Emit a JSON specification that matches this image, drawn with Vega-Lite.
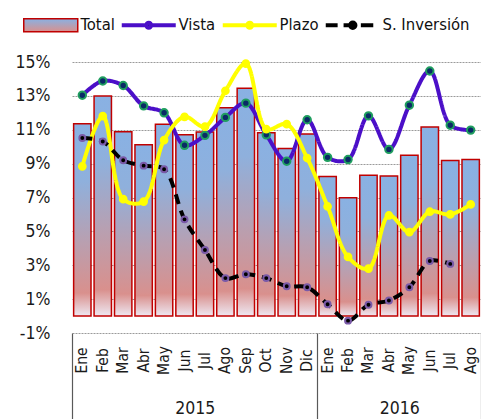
{
  "$schema": "https://vega.github.io/schema/vega-lite/v6.json",
  "width": 409,
  "height": 271,
  "autosize": {"type": "none"},
  "padding": {"left": 72, "top": 62, "right": 0, "bottom": 86},
  "background": "white",
  "config": {
    "font": "'DejaVu Sans Condensed', Roboto, sans-serif",
    "view": {"stroke": null},
    "axis": {"labelFont": "'DejaVu Sans Condensed', Roboto, sans-serif", "labelColor": "#1a1a1a"}
  },
  "data": {
    "values": [
      {"m": "2015-01", "serie": "Total", "v": 11.35},
      {"m": "2015-02", "serie": "Total", "v": 13.0},
      {"m": "2015-03", "serie": "Total", "v": 10.88},
      {"m": "2015-04", "serie": "Total", "v": 10.12},
      {"m": "2015-05", "serie": "Total", "v": 11.33},
      {"m": "2015-06", "serie": "Total", "v": 10.7},
      {"m": "2015-07", "serie": "Total", "v": 10.86},
      {"m": "2015-08", "serie": "Total", "v": 12.3},
      {"m": "2015-09", "serie": "Total", "v": 13.45},
      {"m": "2015-10", "serie": "Total", "v": 10.82},
      {"m": "2015-11", "serie": "Total", "v": 9.9},
      {"m": "2015-12", "serie": "Total", "v": 10.75},
      {"m": "2016-01", "serie": "Total", "v": 8.24},
      {"m": "2016-02", "serie": "Total", "v": 6.98},
      {"m": "2016-03", "serie": "Total", "v": 8.31},
      {"m": "2016-04", "serie": "Total", "v": 8.27},
      {"m": "2016-05", "serie": "Total", "v": 9.49},
      {"m": "2016-06", "serie": "Total", "v": 11.16},
      {"m": "2016-07", "serie": "Total", "v": 9.18},
      {"m": "2016-08", "serie": "Total", "v": 9.25},
      {"m": "2015-01", "serie": "Vista", "v": 13.04},
      {"m": "2015-02", "serie": "Vista", "v": 13.88},
      {"m": "2015-03", "serie": "Vista", "v": 13.61},
      {"m": "2015-04", "serie": "Vista", "v": 12.41},
      {"m": "2015-05", "serie": "Vista", "v": 12.0},
      {"m": "2015-06", "serie": "Vista", "v": 10.08},
      {"m": "2015-07", "serie": "Vista", "v": 10.67},
      {"m": "2015-08", "serie": "Vista", "v": 11.73},
      {"m": "2015-09", "serie": "Vista", "v": 12.57},
      {"m": "2015-10", "serie": "Vista", "v": 10.7},
      {"m": "2015-11", "serie": "Vista", "v": 9.14},
      {"m": "2015-12", "serie": "Vista", "v": 11.59},
      {"m": "2016-01", "serie": "Vista", "v": 9.37},
      {"m": "2016-02", "serie": "Vista", "v": 9.24},
      {"m": "2016-03", "serie": "Vista", "v": 11.82},
      {"m": "2016-04", "serie": "Vista", "v": 9.84},
      {"m": "2016-05", "serie": "Vista", "v": 12.45},
      {"m": "2016-06", "serie": "Vista", "v": 14.47},
      {"m": "2016-07", "serie": "Vista", "v": 11.27},
      {"m": "2016-08", "serie": "Vista", "v": 10.98},
      {"m": "2015-01", "serie": "Plazo", "v": 8.84},
      {"m": "2015-02", "serie": "Plazo", "v": 11.8},
      {"m": "2015-03", "serie": "Plazo", "v": 6.9},
      {"m": "2015-04", "serie": "Plazo", "v": 6.76},
      {"m": "2015-05", "serie": "Plazo", "v": 10.39},
      {"m": "2015-06", "serie": "Plazo", "v": 11.76},
      {"m": "2015-07", "serie": "Plazo", "v": 11.18},
      {"m": "2015-08", "serie": "Plazo", "v": 13.3},
      {"m": "2015-09", "serie": "Plazo", "v": 14.9},
      {"m": "2015-10", "serie": "Plazo", "v": 11.04},
      {"m": "2015-11", "serie": "Plazo", "v": 11.33},
      {"m": "2015-12", "serie": "Plazo", "v": 9.33},
      {"m": "2016-01", "serie": "Plazo", "v": 6.47},
      {"m": "2016-02", "serie": "Plazo", "v": 3.49},
      {"m": "2016-03", "serie": "Plazo", "v": 2.8},
      {"m": "2016-04", "serie": "Plazo", "v": 5.94},
      {"m": "2016-05", "serie": "Plazo", "v": 4.96},
      {"m": "2016-06", "serie": "Plazo", "v": 6.16},
      {"m": "2016-07", "serie": "Plazo", "v": 6.0},
      {"m": "2016-08", "serie": "Plazo", "v": 6.59},
      {"m": "2015-01", "serie": "S. Inversión", "v": 10.51},
      {"m": "2015-02", "serie": "S. Inversión", "v": 10.31},
      {"m": "2015-03", "serie": "S. Inversión", "v": 9.2},
      {"m": "2015-04", "serie": "S. Inversión", "v": 8.88},
      {"m": "2015-05", "serie": "S. Inversión", "v": 8.67},
      {"m": "2015-06", "serie": "S. Inversión", "v": 5.71},
      {"m": "2015-07", "serie": "S. Inversión", "v": 3.9},
      {"m": "2015-08", "serie": "S. Inversión", "v": 2.24},
      {"m": "2015-09", "serie": "S. Inversión", "v": 2.47},
      {"m": "2015-10", "serie": "S. Inversión", "v": 2.24},
      {"m": "2015-11", "serie": "S. Inversión", "v": 1.76},
      {"m": "2015-12", "serie": "S. Inversión", "v": 1.7},
      {"m": "2016-01", "serie": "S. Inversión", "v": 0.7},
      {"m": "2016-02", "serie": "S. Inversión", "v": -0.27},
      {"m": "2016-03", "serie": "S. Inversión", "v": 0.67},
      {"m": "2016-04", "serie": "S. Inversión", "v": 0.92},
      {"m": "2016-05", "serie": "S. Inversión", "v": 1.7},
      {"m": "2016-06", "serie": "S. Inversión", "v": 3.25},
      {"m": "2016-07", "serie": "S. Inversión", "v": 3.08}
    ]
  },
  "layer": [
    {
      "layer": [
        {
          "transform": [{"filter": "datum.serie === 'Total'"}],
          "mark": {
            "type": "bar",
            "fill": {
              "gradient": "linear", "x1": 0, "y1": 0, "x2": 0, "y2": 1,
              "stops": [
                {"offset": 0, "color": "#89b1e3"},
                {"offset": 0.3, "color": "#8fb0dc"},
                {"offset": 0.6, "color": "#b7a0b2"},
                {"offset": 0.88, "color": "#d9908d"},
                {"offset": 1, "color": "#eee8f2"}
              ]
            },
            "stroke": "#c00000",
            "strokeWidth": 1.5
          },
          "encoding": {
            "x": {
              "field": "m", "type": "ordinal",
              "scale": {"paddingInner": 0.15, "paddingOuter": 0.08},
              "axis": {
                "orient": "bottom",
                "title": null,
                "labelAngle": -90,
                "labelAlign": "center",
                "labelBaseline": "middle",
                "labelExpr": "['Ene','Feb','Mar','Abr','May','Jun','Jul','Ago','Sep','Oct','Nov','Dic'][toNumber(split(datum.value,'-')[1]) - 1]",
                "ticks": false,
                "domain": false,
                "labelPadding": 27,
                "labelFontSize": 15.5
              }
            },
            "y": {
              "field": "v", "type": "quantitative",
              "scale": {"domain": [-1, 15], "nice": false, "zero": false},
              "axis": {
                "title": null,
                "values": [-1, 1, 3, 5, 7, 9, 11, 13, 15],
                "tickCount": 20,
                "labelExpr": "datum.value + '%'",
                "grid": true,
                "gridColor": "#9a9a9a",
                "gridDash": [2, 1],
                "ticks": false,
                "domain": false,
                "labelPadding": 22,
                "labelFontSize": 17.5,
                "labelOverlap": false
              }
            }
          }
        },
        {
          "transform": [{"filter": "datum.serie !== 'Total'"}],
          "mark": {"type": "line", "interpolate": "catmull-rom", "strokeWidth": 4},
          "encoding": {
            "x": {"field": "m", "type": "ordinal"},
            "y": {"field": "v", "type": "quantitative"},
            "color": {
              "field": "serie", "type": "nominal",
              "scale": {"domain": ["Total", "Vista", "Plazo", "S. Inversión"], "range": ["#c00000", "#4b0fc8", "#ffff00", "#000000"]},
              "legend": {
                "orient": "none",
                "legendX": -49,
                "legendY": -45,
                "direction": "horizontal",
                "columns": 4,
                "gridAlign": "none",
                "title": null,
                "symbolSize": 2916,
                "symbolStrokeWidth": 1.5,
                "labelFontSize": 16.5,
                "labelColor": "#111111",
                "symbolOffset": 19.5,
                "labelOffset": 21.5,
                "columnPadding": -2,
                "encode": {
                  "symbols": {
                    "update": {
                      "shape": {"signal": "datum.value === 'Total' ? 'M-1,-0.24H1V0.24H-1Z' : datum.value === 'S. Inversión' ? 'M-1,0H-0.56M-0.34,0H-0.16M0.3,0H0.76M0.1,0A0.1,0.1 0 1,1 -0.1,0A0.1,0.1 0 1,1 0.1,0Z' : 'M-1,0H-0.09M0.09,0H1M0.09,0A0.09,0.09 0 1,1 -0.09,0A0.09,0.09 0 1,1 0.09,0Z'"},
                      "stroke": {"signal": "datum.value === 'Total' ? '#c00000' : datum.value === 'Vista' ? '#4b0fc8' : datum.value === 'Plazo' ? '#ffff00' : '#000000'"},
                      "fill": {"signal": "datum.value === 'Total' ? {gradient: 'linear', x1: 0, y1: 0, x2: 0, y2: 1, stops: [{offset: 0, color: '#89b1e3'}, {offset: 1, color: '#d9908d'}]} : datum.value === 'Vista' ? '#0a2a66' : datum.value === 'Plazo' ? '#ffff00' : '#000000'"},
                      "strokeWidth": {"signal": "datum.value === 'Total' ? 1.5 : 4"},
                      "opacity": {"value": 1}
                    }
                  }
                }
              }
            },
            "strokeDash": {
              "field": "serie", "type": "nominal",
              "scale": {"domain": ["Vista", "Plazo", "S. Inversión"], "range": [[1, 0], [1, 0], [10, 7]]},
              "legend": null
            }
          }
        },
        {
          "transform": [{"filter": "datum.serie !== 'Total'"}],
          "mark": {"type": "point", "shape": "circle", "filled": true, "opacity": 1, "strokeWidth": 2},
          "encoding": {
            "x": {"field": "m", "type": "ordinal"},
            "y": {"field": "v", "type": "quantitative"},
            "fill": {
              "field": "serie", "type": "nominal",
              "scale": {"domain": ["Vista", "Plazo", "S. Inversión"], "range": ["#0a2a66", "#ffff00", "#000000"]},
              "legend": null
            },
            "stroke": {
              "field": "serie", "type": "nominal",
              "scale": {"domain": ["Vista", "Plazo", "S. Inversión"], "range": ["#1f9e5f", "#ffff00", "#7a5aa8"]},
              "legend": null
            },
            "size": {
              "field": "serie", "type": "nominal",
              "scale": {"domain": ["Vista", "Plazo", "S. Inversión"], "range": [55, 35, 100]},
              "legend": null
            }
          }
        }
      ]
    },
    {
      "data": {"values": [{}]},
      "mark": {"type": "rule", "opacity": 0},
      "encoding": {
        "x": {
          "datum": 0, "type": "quantitative",
          "scale": {"domain": [0, 20], "nice": false, "zero": false},
          "axis": {
            "orient": "bottom",
            "title": null,
            "values": [0, 6, 12, 16, 20],
            "tickCount": 20,
            "tickSize": 87,
            "tickWidth": 1.2,
            "tickColor": {"condition": {"test": "datum.value == 6 || datum.value == 16", "value": "transparent"}, "value": "#595959"},
            "labelExpr": "datum.value == 6 ? '2015' : datum.value == 16 ? '2016' : ''",
            "labelPadding": -21,
            "labelFontSize": 17.5,
            "labelOverlap": false,
            "labelBound": false,
            "labelFlush": false,
            "domain": false,
            "grid": false
          }
        }
      }
    }
  ],
  "resolve": {"scale": {"x": "independent"}, "axis": {"x": "independent"}}
}
